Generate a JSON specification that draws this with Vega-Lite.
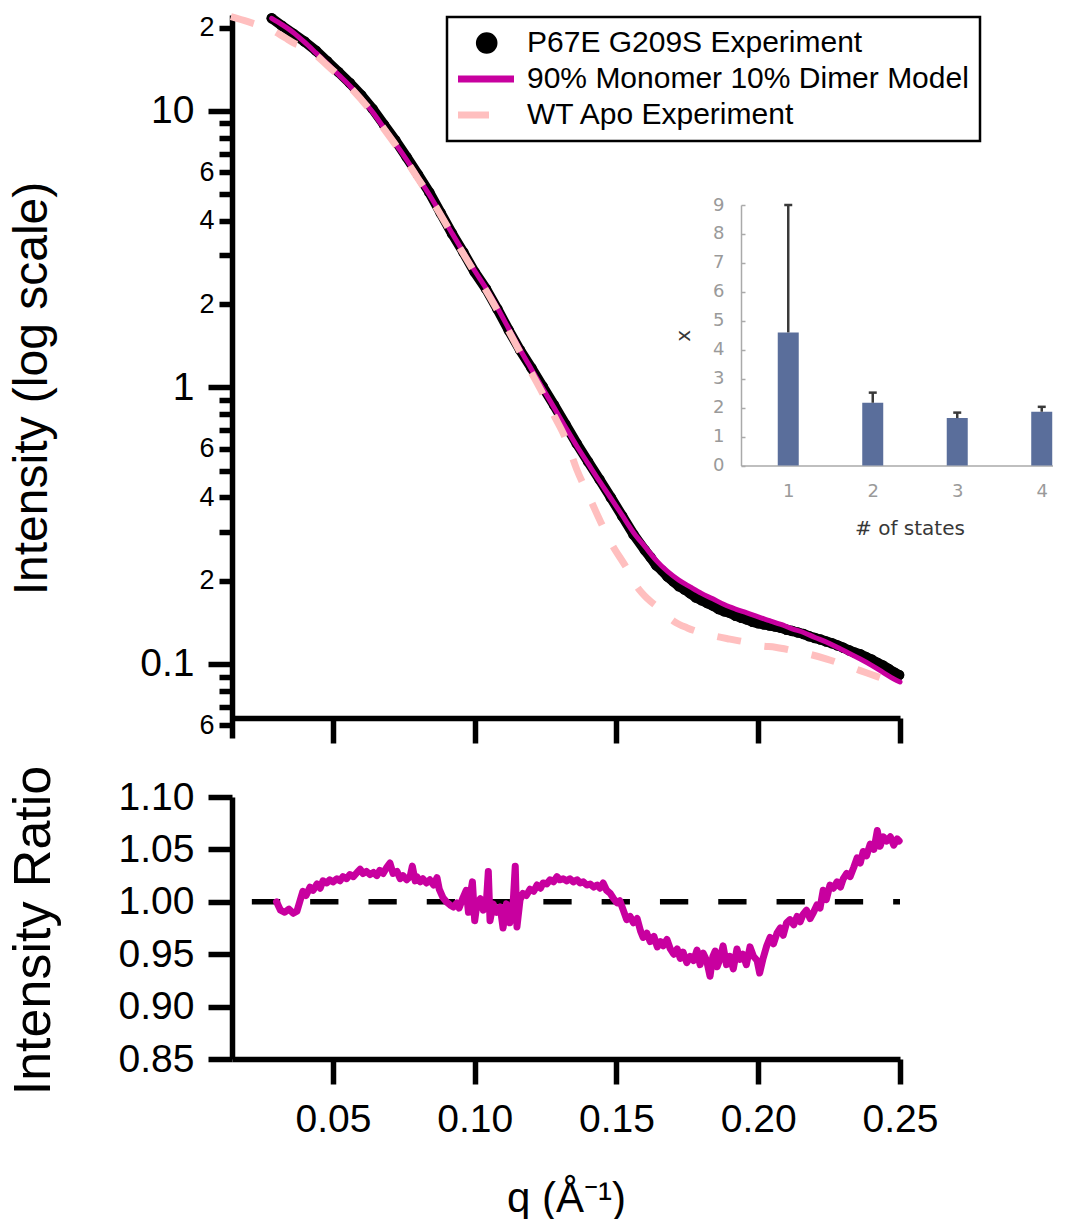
{
  "$schema": "https://vega.github.io/schema/vega-lite/v6.json",
  "autosize": {"type": "pad"},
  "padding": {"left": 6, "top": 2, "right": 0, "bottom": 0},
  "bounds": "flush",
  "spacing": 59,
  "config": {
    "view": {"stroke": null},
    "font": "Liberation Sans",
    "axis": {"grid": false, "domainColor": "black", "tickColor": "black", "labelColor": "black", "titleColor": "black", "labelFont": "Liberation Sans", "titleFont": "Liberation Sans", "titleFontWeight": "normal", "domainWidth": 5.5, "tickWidth": 5.5, "labelOverlap": false, "labelFlush": false, "labelBound": false}
  },
  "datasets": {
    "exp": [
      {"q":0.0284,"I":21.6},{"q":0.032,"I":20.3},{"q":0.036,"I":19.0},{"q":0.040,"I":17.8},{"q":0.044,"I":16.5},{"q":0.048,"I":15.1},{"q":0.052,"I":13.8},{"q":0.056,"I":12.6},{"q":0.060,"I":11.38},{"q":0.064,"I":10.16},{"q":0.068,"I":8.91},{"q":0.072,"I":7.83},{"q":0.076,"I":6.80},{"q":0.080,"I":5.88},{"q":0.084,"I":5.07},{"q":0.088,"I":4.27},{"q":0.092,"I":3.60},{"q":0.096,"I":3.08},{"q":0.100,"I":2.61},{"q":0.104,"I":2.27},{"q":0.108,"I":1.92},{"q":0.112,"I":1.61},{"q":0.116,"I":1.364},{"q":0.120,"I":1.176},{"q":0.124,"I":1.007},{"q":0.128,"I":0.863},{"q":0.132,"I":0.735},{"q":0.136,"I":0.626},{"q":0.140,"I":0.539},{"q":0.144,"I":0.465},{"q":0.148,"I":0.400},{"q":0.152,"I":0.343},{"q":0.156,"I":0.294},{"q":0.160,"I":0.258},{"q":0.162,"I":0.243},{"q":0.164,"I":0.2275},{"q":0.166,"I":0.218},{"q":0.168,"I":0.207},{"q":0.170,"I":0.199},{"q":0.172,"I":0.191},{"q":0.174,"I":0.186},{"q":0.176,"I":0.180},{"q":0.178,"I":0.174},{"q":0.180,"I":0.170},{"q":0.182,"I":0.166},{"q":0.184,"I":0.1625},{"q":0.186,"I":0.158},{"q":0.188,"I":0.155},{"q":0.190,"I":0.153},{"q":0.192,"I":0.1493},{"q":0.194,"I":0.147},{"q":0.196,"I":0.1449},{"q":0.198,"I":0.142},{"q":0.200,"I":0.1403},{"q":0.202,"I":0.139},{"q":0.204,"I":0.1378},{"q":0.206,"I":0.1365},{"q":0.208,"I":0.1351},{"q":0.210,"I":0.133},{"q":0.212,"I":0.1316},{"q":0.214,"I":0.130},{"q":0.216,"I":0.1283},{"q":0.218,"I":0.126},{"q":0.220,"I":0.1241},{"q":0.222,"I":0.1225},{"q":0.224,"I":0.1206},{"q":0.226,"I":0.1188},{"q":0.228,"I":0.1167},{"q":0.230,"I":0.1145},{"q":0.232,"I":0.1121},{"q":0.234,"I":0.110},{"q":0.236,"I":0.1084},{"q":0.238,"I":0.106},{"q":0.240,"I":0.1038},{"q":0.242,"I":0.101},{"q":0.244,"I":0.0987},{"q":0.246,"I":0.096},{"q":0.248,"I":0.0932},{"q":0.2497,"I":0.0912}
    ],
    "model": [
      {"q":0.0284,"I":21.6},{"q":0.032,"I":20.5},{"q":0.036,"I":19.2},{"q":0.040,"I":17.7},{"q":0.044,"I":16.2},{"q":0.048,"I":14.8},{"q":0.052,"I":13.5},{"q":0.056,"I":12.3},{"q":0.060,"I":11.07},{"q":0.064,"I":9.89},{"q":0.068,"I":8.67},{"q":0.072,"I":7.62},{"q":0.076,"I":6.65},{"q":0.080,"I":5.75},{"q":0.084,"I":4.97},{"q":0.088,"I":4.24},{"q":0.092,"I":3.61},{"q":0.096,"I":3.08},{"q":0.100,"I":2.64},{"q":0.104,"I":2.28},{"q":0.108,"I":1.94},{"q":0.112,"I":1.63},{"q":0.116,"I":1.371},{"q":0.120,"I":1.164},{"q":0.124,"I":0.991},{"q":0.128,"I":0.845},{"q":0.132,"I":0.719},{"q":0.136,"I":0.614},{"q":0.140,"I":0.530},{"q":0.144,"I":0.458},{"q":0.148,"I":0.398},{"q":0.152,"I":0.345},{"q":0.156,"I":0.299},{"q":0.160,"I":0.266},{"q":0.164,"I":0.237},{"q":0.168,"I":0.216},{"q":0.172,"I":0.201},{"q":0.176,"I":0.190},{"q":0.180,"I":0.180},{"q":0.184,"I":0.172},{"q":0.188,"I":0.164},{"q":0.192,"I":0.158},{"q":0.196,"I":0.153},{"q":0.200,"I":0.148},{"q":0.204,"I":0.1435},{"q":0.208,"I":0.139},{"q":0.212,"I":0.134},{"q":0.216,"I":0.130},{"q":0.220,"I":0.1247},{"q":0.224,"I":0.120},{"q":0.228,"I":0.1146},{"q":0.232,"I":0.1094},{"q":0.236,"I":0.1042},{"q":0.240,"I":0.0989},{"q":0.244,"I":0.0933},{"q":0.248,"I":0.0881},{"q":0.250,"I":0.0861}
    ],
    "wt": [
      {"q":0.0140,"I":21.9},{"q":0.0200,"I":21.0},{"q":0.0250,"I":20.2},{"q":0.0284,"I":19.6},{"q":0.0330,"I":18.4},{"q":0.0366,"I":17.5},{"q":0.040,"I":17.0},{"q":0.044,"I":15.9},{"q":0.048,"I":14.6},{"q":0.052,"I":13.4},{"q":0.056,"I":12.2},{"q":0.060,"I":10.98},{"q":0.064,"I":9.8},{"q":0.068,"I":8.6},{"q":0.072,"I":7.55},{"q":0.076,"I":6.58},{"q":0.080,"I":5.69},{"q":0.084,"I":4.92},{"q":0.088,"I":4.20},{"q":0.092,"I":3.57},{"q":0.096,"I":3.04},{"q":0.100,"I":2.60},{"q":0.104,"I":2.24},{"q":0.108,"I":1.90},{"q":0.112,"I":1.60},{"q":0.116,"I":1.34},{"q":0.120,"I":1.13},{"q":0.124,"I":0.95},{"q":0.128,"I":0.79},{"q":0.132,"I":0.655},{"q":0.136,"I":0.505},{"q":0.140,"I":0.41},{"q":0.1445,"I":0.325},{"q":0.148,"I":0.275},{"q":0.1536,"I":0.222},{"q":0.157,"I":0.192},{"q":0.161,"I":0.172},{"q":0.1654,"I":0.158},{"q":0.1701,"I":0.143},{"q":0.175,"I":0.135},{"q":0.1795,"I":0.130},{"q":0.1842,"I":0.1265},{"q":0.190,"I":0.123},{"q":0.196,"I":0.1197},{"q":0.2007,"I":0.1164},{"q":0.206,"I":0.1150},{"q":0.2124,"I":0.1117},{"q":0.218,"I":0.1085},{"q":0.2242,"I":0.1042},{"q":0.230,"I":0.0995},{"q":0.236,"I":0.0946},{"q":0.242,"I":0.0900},{"q":0.2489,"I":0.0847},{"q":0.2500,"I":0.0838}
    ],
    "inset": [
      {"states":1,"chi":4.6,"upper":9.0},{"states":2,"chi":2.17,"upper":2.52},{"states":3,"chi":1.64,"upper":1.83},{"states":4,"chi":1.86,"upper":2.03}
    ],
    "refline": [{"q":0.0214,"r":1.0},{"q":0.25,"r":1.0}],
    "ratio": [
      {"q":0.0301,"r":1.000},{"q":0.0315,"r":0.992},{"q":0.0330,"r":0.990},{"q":0.0345,"r":0.993},{"q":0.0360,"r":0.989},{"q":0.0373,"r":0.991},{"q":0.0385,"r":1.002},{"q":0.0394,"r":1.010},{"q":0.0405,"r":1.006},{"q":0.0419,"r":1.014},{"q":0.0430,"r":1.011},{"q":0.0444,"r":1.017},{"q":0.0455,"r":1.013},{"q":0.0465,"r":1.020},{"q":0.0478,"r":1.018},{"q":0.0489,"r":1.021},{"q":0.0500,"r":1.019},{"q":0.0514,"r":1.022},{"q":0.0525,"r":1.020},{"q":0.0535,"r":1.024},{"q":0.0548,"r":1.022},{"q":0.0560,"r":1.026},{"q":0.0572,"r":1.024},{"q":0.0585,"r":1.028},{"q":0.0596,"r":1.031},{"q":0.0606,"r":1.027},{"q":0.0618,"r":1.029},{"q":0.0631,"r":1.026},{"q":0.0643,"r":1.028},{"q":0.0655,"r":1.025},{"q":0.0665,"r":1.030},{"q":0.0677,"r":1.027},{"q":0.0690,"r":1.033},{"q":0.0701,"r":1.037},{"q":0.0712,"r":1.027},{"q":0.0726,"r":1.029},{"q":0.0737,"r":1.022},{"q":0.0747,"r":1.025},{"q":0.0760,"r":1.021},{"q":0.0772,"r":1.024},{"q":0.0780,"r":1.034},{"q":0.0790,"r":1.020},{"q":0.0796,"r":1.024},{"q":0.0808,"r":1.019},{"q":0.0817,"r":1.022},{"q":0.0830,"r":1.018},{"q":0.0842,"r":1.021},{"q":0.0855,"r":1.016},{"q":0.0867,"r":1.023},{"q":0.0875,"r":1.012},{"q":0.0888,"r":1.004},{"q":0.0900,"r":1.000},{"q":0.0913,"r":0.997},{"q":0.0925,"r":0.995},{"q":0.0937,"r":0.999},{"q":0.0945,"r":0.994},{"q":0.0959,"r":1.004},{"q":0.0970,"r":1.011},{"q":0.0978,"r":0.990},{"q":0.0984,"r":1.006},{"q":0.0992,"r":1.019},{"q":0.1000,"r":0.982},{"q":0.1008,"r":0.998},{"q":0.1020,"r":1.003},{"q":0.1030,"r":0.992},{"q":0.1040,"r":0.995},{"q":0.1048,"r":1.029},{"q":0.1054,"r":0.982},{"q":0.1065,"r":0.998},{"q":0.1078,"r":0.990},{"q":0.1090,"r":0.995},{"q":0.1100,"r":0.975},{"q":0.1112,"r":0.998},{"q":0.1124,"r":0.980},{"q":0.1135,"r":0.996},{"q":0.1143,"r":1.034},{"q":0.1149,"r":0.976},{"q":0.1160,"r":1.002},{"q":0.1170,"r":1.008},{"q":0.1182,"r":1.006},{"q":0.1195,"r":1.012},{"q":0.1208,"r":1.010},{"q":0.1220,"r":1.016},{"q":0.1232,"r":1.013},{"q":0.1241,"r":1.018},{"q":0.1254,"r":1.017},{"q":0.1266,"r":1.021},{"q":0.1278,"r":1.019},{"q":0.1290,"r":1.024},{"q":0.1300,"r":1.021},{"q":0.1312,"r":1.022},{"q":0.1325,"r":1.020},{"q":0.1336,"r":1.022},{"q":0.1348,"r":1.019},{"q":0.1361,"r":1.021},{"q":0.1372,"r":1.018},{"q":0.1383,"r":1.019},{"q":0.1395,"r":1.016},{"q":0.1407,"r":1.017},{"q":0.1420,"r":1.014},{"q":0.1432,"r":1.016},{"q":0.1442,"r":1.013},{"q":0.1453,"r":1.018},{"q":0.1465,"r":1.011},{"q":0.1478,"r":1.008},{"q":0.1490,"r":1.003},{"q":0.1502,"r":0.999},{"q":0.1512,"r":1.001},{"q":0.1524,"r":0.992},{"q":0.1536,"r":0.983},{"q":0.1548,"r":0.986},{"q":0.1560,"r":0.980},{"q":0.1573,"r":0.984},{"q":0.1585,"r":0.972},{"q":0.1594,"r":0.966},{"q":0.1607,"r":0.970},{"q":0.1619,"r":0.962},{"q":0.1632,"r":0.967},{"q":0.1644,"r":0.957},{"q":0.1655,"r":0.962},{"q":0.1665,"r":0.958},{"q":0.1678,"r":0.964},{"q":0.1690,"r":0.955},{"q":0.1702,"r":0.950},{"q":0.1714,"r":0.955},{"q":0.1725,"r":0.946},{"q":0.1735,"r":0.952},{"q":0.1748,"r":0.942},{"q":0.1760,"r":0.948},{"q":0.1772,"r":0.944},{"q":0.1784,"r":0.954},{"q":0.1795,"r":0.940},{"q":0.1806,"r":0.951},{"q":0.1818,"r":0.944},{"q":0.1830,"r":0.929},{"q":0.1840,"r":0.948},{"q":0.1848,"r":0.953},{"q":0.1855,"r":0.938},{"q":0.1866,"r":0.946},{"q":0.1876,"r":0.958},{"q":0.1888,"r":0.940},{"q":0.1900,"r":0.948},{"q":0.1912,"r":0.936},{"q":0.1925,"r":0.955},{"q":0.1935,"r":0.945},{"q":0.1946,"r":0.950},{"q":0.1958,"r":0.940},{"q":0.1971,"r":0.957},{"q":0.1983,"r":0.948},{"q":0.1996,"r":0.944},{"q":0.2005,"r":0.932},{"q":0.2017,"r":0.946},{"q":0.2030,"r":0.958},{"q":0.2042,"r":0.966},{"q":0.2054,"r":0.960},{"q":0.2066,"r":0.970},{"q":0.2078,"r":0.975},{"q":0.2088,"r":0.968},{"q":0.2100,"r":0.980},{"q":0.2112,"r":0.983},{"q":0.2125,"r":0.978},{"q":0.2137,"r":0.986},{"q":0.2148,"r":0.981},{"q":0.2158,"r":0.988},{"q":0.2170,"r":0.992},{"q":0.2183,"r":0.984},{"q":0.2195,"r":0.990},{"q":0.2207,"r":0.997},{"q":0.2218,"r":0.994},{"q":0.2229,"r":1.011},{"q":0.2240,"r":1.002},{"q":0.2253,"r":1.016},{"q":0.2265,"r":1.013},{"q":0.2278,"r":1.019},{"q":0.2290,"r":1.014},{"q":0.2300,"r":1.022},{"q":0.2312,"r":1.027},{"q":0.2324,"r":1.024},{"q":0.2337,"r":1.033},{"q":0.2349,"r":1.042},{"q":0.2360,"r":1.037},{"q":0.2370,"r":1.048},{"q":0.2382,"r":1.044},{"q":0.2395,"r":1.055},{"q":0.2408,"r":1.050},{"q":0.2420,"r":1.068},{"q":0.2430,"r":1.053},{"q":0.2441,"r":1.062},{"q":0.2453,"r":1.058},{"q":0.2466,"r":1.062},{"q":0.2478,"r":1.054},{"q":0.2490,"r":1.060},{"q":0.2497,"r":1.058}
    ]
  },
  "vconcat": [
    {
      "width": 668,
      "height": 723,
      "layer": [
        {
          "encoding": {
            "x": {"field": "q", "type": "quantitative", "scale": {"domain": [0.0144, 0.25], "nice": false, "zero": false},
                  "axis": {"values": [0.05, 0.1, 0.15, 0.2, 0.25], "labels": false, "tickSize": 25, "offset": -20, "title": null}},
            "y": {"field": "I", "type": "quantitative", "scale": {"type": "log", "domain": [0.054, 22.2], "nice": false},
                  "axis": {
                    "values": [0.06, 0.07, 0.08, 0.09, 0.1, 0.2, 0.3, 0.4, 0.5, 0.6, 0.7, 0.8, 0.9, 1, 2, 3, 4, 5, 6, 7, 8, 9, 10, 20],
                    "labelExpr": "datum.value == 10 ? '10' : datum.value == 1 ? '1' : datum.value == 0.1 ? '0.1' : (datum.value == 20 || datum.value == 2 || datum.value == 0.2) ? '2' : (datum.value == 6 || datum.value == 0.6 || datum.value == 0.06) ? '6' : (datum.value == 4 || datum.value == 0.4) ? '4' : ''",
                    "tickSize": {"condition": {"test": "datum.value == 10 || datum.value == 1 || datum.value == 0.1", "value": 24}, "value": 13},
                    "labelFontSize": {"condition": {"test": "datum.value == 10 || datum.value == 1 || datum.value == 0.1", "value": 39}, "value": 27},
                    "labelPadding": {"condition": {"test": "datum.value == 10 || datum.value == 1 || datum.value == 0.1", "value": 14}, "value": 5},
                    "title": "Intensity (log scale)",
                    "titleFontSize": 48,
                    "titleX": -224,
                    "titleY": 373,
                    "titleBaseline": "top",
                    "titleAlign": "center",
                    "titleAngle": -90
                  }}
          },
          "layer": [
            {
              "data": {"name": "exp"},
              "mark": {"type": "line", "strokeWidth": 10, "strokeCap": "round", "strokeJoin": "round"},
              "encoding": {
                "color": {"datum": "P67E G209S Experiment", "type": "nominal",
                  "scale": {"domain": ["P67E G209S Experiment", "90% Monomer 10% Dimer Model", "WT Apo Experiment"], "range": ["#000000", "#c8009f", "#ffbfbf"]},
                  "legend": {
                    "title": null, "orient": "none", "legendX": 215, "legendY": 2, "direction": "vertical",
                    "labelFont": "Liberation Sans", "labelFontSize": 30, "labelColor": "black", "labelLimit": 800,
                    "labelOffset": 39, "symbolSize": 400, "symbolStrokeWidth": 0,
                    "padding": 11, "rowPadding": 6,
                    "strokeColor": "black", "fillColor": "white",
                    "encode": {
                      "symbols": {"update": {
                        "shape": {"signal": "datum.value === 'P67E G209S Experiment' ? 'M0.29,0A1.08,1.08 0 1,0 2.45,0A1.08,1.08 0 1,0 0.29,0Z' : datum.value === 'WT Apo Experiment' ? 'M-1.5,-0.35H1.6V0.35H-1.5Z' : 'M-1.5,-0.34H4.1V0.34H-1.5Z'"},
                        "fill": {"signal": "datum.value === 'P67E G209S Experiment' ? '#000000' : datum.value === 'WT Apo Experiment' ? '#ffbfbf' : '#c8009f'"},
                        "stroke": {"value": "transparent"},
                        "strokeWidth": {"value": 0},
                        "opacity": {"value": 1},
                        "size": {"value": 400}
                      }},
                      "legend": {"update": {"strokeWidth": {"value": 2.5}}}
                    }
                  }}
              }
            },
            {
              "data": {"name": "exp"},
              "mark": {"type": "point", "filled": true, "size": 110, "opacity": 1, "shape": "circle"},
              "encoding": {"color": {"datum": "P67E G209S Experiment", "type": "nominal"}}
            },
            {
              "data": {"name": "model"},
              "mark": {"type": "line", "strokeWidth": 5, "strokeCap": "round", "strokeJoin": "round", "interpolate": "monotone"},
              "encoding": {"color": {"datum": "90% Monomer 10% Dimer Model", "type": "nominal"}}
            },
            {
              "data": {"name": "wt"},
              "mark": {"type": "line", "strokeWidth": 7, "strokeDash": [24, 24], "interpolate": "monotone"},
              "encoding": {"color": {"datum": "WT Apo Experiment", "type": "nominal"}}
            }
          ]
        },
        {
          "data": {"name": "inset"},
          "encoding": {
            "x": {"field": "states", "type": "quantitative", "scale": {"domain": [0.5, 4.37], "range": [509, 846], "nice": false, "zero": false},
                  "axis": {"orient": "bottom", "offset": -272.4, "values": [1, 2, 3, 4], "format": "d", "ticks": false, "domainColor": "#aaaaaa", "domainWidth": 1.5,
                           "labelFont": "DejaVu Sans", "labelFontSize": 18, "labelColor": "#9a9a9a", "labelPadding": 17,
                           "title": "# of states", "titleFont": "DejaVu Sans", "titleFontSize": 20, "titleColor": "#383838", "titleY": 69, "titleBaseline": "alphabetic"}}
          },
          "layer": [
            {
              "mark": {"type": "bar", "size": 21, "color": "#5a6e9b"},
              "encoding": {
                "y": {"field": "chi", "type": "quantitative", "stack": null, "scale": {"domain": [0, 9], "range": [450.6, 190], "nice": false, "zero": true},
                      "axis": {"orient": "left", "offset": -509, "values": [0, 1, 2, 3, 4, 5, 6, 7, 8, 9], "format": "d", "tickSize": -4, "tickWidth": 1.5, "tickColor": "#aaaaaa", "domainColor": "#aaaaaa", "domainWidth": 1.5,
                               "labelFont": "DejaVu Sans", "labelFontSize": 18, "labelColor": "#9a9a9a", "labelPadding": 21,
                               "title": "x", "titleFont": "DejaVu Sans", "titleFontSize": 20, "titleColor": "#383838", "titleX": -58, "titleBaseline": "middle"}}
              }
            },
            {
              "mark": {"type": "rule", "color": "#3a3a3a", "strokeWidth": 2.5},
              "encoding": {
                "y": {"field": "chi", "type": "quantitative"},
                "y2": {"field": "upper"}
              }
            },
            {
              "mark": {"type": "point", "shape": "M-1,0H1", "filled": false, "size": 64, "color": "#3a3a3a", "strokeWidth": 2.5, "opacity": 1},
              "encoding": {
                "y": {"field": "upper", "type": "quantitative"}
              }
            }
          ]
        }
      ],
      "resolve": {"scale": {"x": "independent", "y": "independent"}, "axis": {"x": "independent", "y": "independent"}}
    },
    {
      "width": 668,
      "height": 262,
      "encoding": {
        "x": {"field": "q", "type": "quantitative", "scale": {"domain": [0.0144, 0.25], "nice": false, "zero": false},
              "axis": {"values": [0.05, 0.1, 0.15, 0.2, 0.25], "format": ".2f", "tickSize": 25, "labelFontSize": 39, "labelPadding": 16,
                       "title": "q (Å⁻¹)", "titleFontSize": 42, "titleY": 152, "titleBaseline": "alphabetic"}},
        "y": {"field": "r", "type": "quantitative", "scale": {"domain": [0.85, 1.1], "nice": false, "zero": false},
              "axis": {"values": [0.85, 0.9, 0.95, 1, 1.05, 1.1], "format": ".2f", "tickSize": 24, "labelFontSize": 39, "labelPadding": 14,
                       "title": "Intensity Ratio", "titleFontSize": 52, "titleX": -224, "titleY": 133, "titleBaseline": "top", "titleAlign": "center", "titleAngle": -90}}
      },
      "layer": [
        {
          "data": {"name": "refline"},
          "mark": {"type": "line", "color": "black", "strokeWidth": 5.5, "strokeDash": [28.3, 30]}
        },
        {
          "data": {"name": "ratio"},
          "mark": {"type": "line", "color": "#c8009f", "strokeWidth": 7, "strokeJoin": "round", "strokeCap": "round"}
        }
      ]
    }
  ]
}
